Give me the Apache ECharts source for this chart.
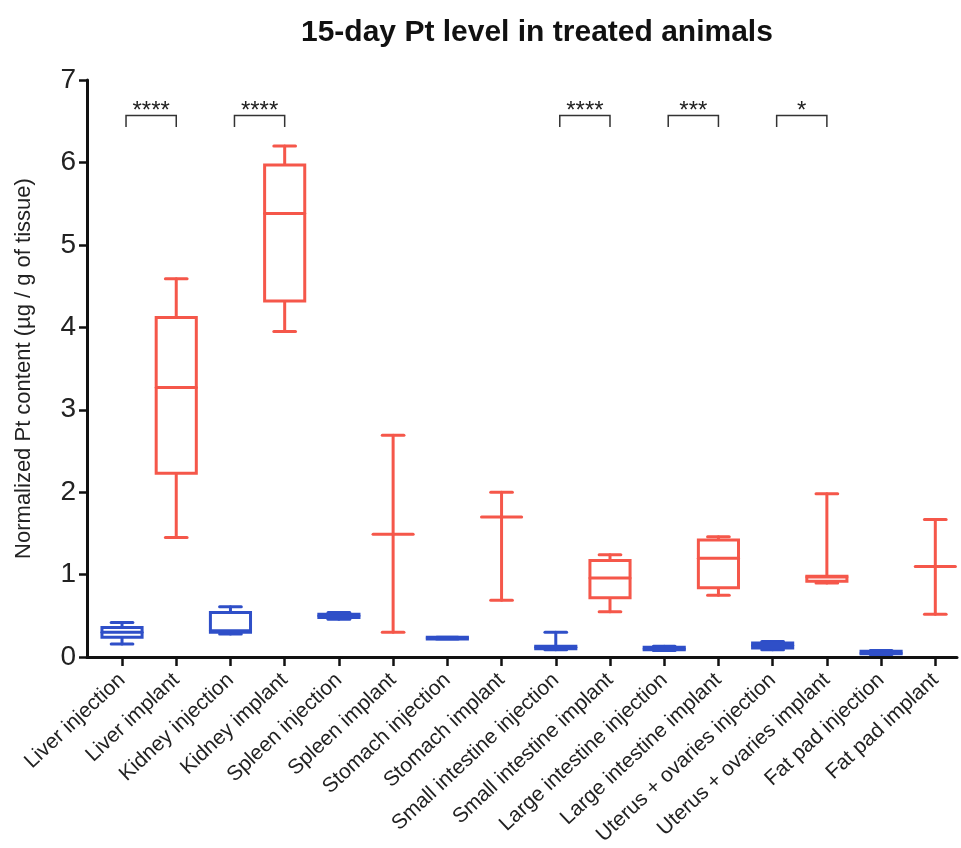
<!DOCTYPE html>
<html>
<head>
<meta charset="utf-8">
<title>15-day Pt level in treated animals</title>
<script src="https://cdn.jsdelivr.net/npm/echarts@6.0.0/dist/echarts.min.js"></script>
<style>
  html, body { margin: 0; padding: 0; background: #fff; }
  #chart { width: 961px; height: 848px; }
</style>
</head>
<body>
<div id="chart"></div>
<script>
// organ groups, injection vs implant
var categories = [
	'Liver injection', 'Liver implant',
	'Kidney injection', 'Kidney implant',
	'Spleen injection', 'Spleen implant',
	'Stomach injection', 'Stomach implant',
	'Small intestine injection', 'Small intestine implant',
	'Large intestine injection', 'Large intestine implant',
	'Uterus + ovaries injection', 'Uterus + ovaries implant',
	'Fat pad injection', 'Fat pad implant'
];
// box values (µg / g)
var minValues    = [0.16, 1.45, 0.28, 3.95, 0.46, 0.30, 0.22, 0.69, 0.09, 0.55, 0.08, 0.75, 0.09, 0.90, 0.03, 0.52];
var q1Values     = [0.24, 2.23, 0.30, 4.32, 0.48, 1.49, 0.22, 1.70, 0.10, 0.72, 0.09, 0.84, 0.11, 0.92, 0.04, 1.10];
var medianValues = [0.30, 3.27, 0.32, 5.38, 0.50, 1.49, 0.23, 1.70, 0.12, 0.96, 0.10, 1.20, 0.14, 0.97, 0.05, 1.10];
var q3Values     = [0.36, 4.12, 0.54, 5.97, 0.52, 1.49, 0.24, 1.70, 0.13, 1.17, 0.12, 1.42, 0.17, 0.98, 0.07, 1.10];
var maxValues    = [0.42, 4.59, 0.61, 6.20, 0.54, 2.69, 0.24, 2.00, 0.30, 1.24, 0.13, 1.46, 0.19, 1.98, 0.08, 1.67];

// significance brackets: [from index, to index, stars]
var sigPairs = [[0, 1, '****'], [2, 3, '****'], [8, 9, '****'], [10, 11, '***'], [12, 13, '*']];
var sigLevel = 6.57;

var yTicks = [0, 1, 2, 3, 4, 5, 6, 7];

var blue = '#2f4fc8';
var red = '#f5574a';

var boxData = [];
for (var i = 0; i < categories.length; i++) {
	boxData.push([i, minValues[i], q1Values[i], medianValues[i], q3Values[i], maxValues[i]]);
}
var sigData = sigPairs.map(function(p) {
	return [p[0], p[1], sigLevel, p[2]];
});

function renderBox(params, api) {
	var idx = api.value(0);
	var lo = api.coord([idx, api.value(1)]);
	var q1 = api.coord([idx, api.value(2)]);
	var md = api.coord([idx, api.value(3)]);
	var q3 = api.coord([idx, api.value(4)]);
	var hi = api.coord([idx, api.value(5)]);
	var unit = api.size([1, 0])[0];
	var half = unit * 0.37;
	var cap = unit * 0.2;
	var cx = md[0];
	var color = categories[idx].indexOf('injection') >= 0 ? blue : red;
	var st = { stroke: color, lineWidth: 3, fill: null, lineCap: 'round' };
	var kids = [];
	// whiskers
	kids.push({ type: 'line', shape: { x1: cx, y1: q3[1], x2: cx, y2: hi[1] }, style: st });
	kids.push({ type: 'line', shape: { x1: cx, y1: q1[1], x2: cx, y2: lo[1] }, style: st });
	kids.push({ type: 'line', shape: { x1: cx - cap, y1: hi[1], x2: cx + cap, y2: hi[1] }, style: st });
	kids.push({ type: 'line', shape: { x1: cx - cap, y1: lo[1], x2: cx + cap, y2: lo[1] }, style: st });
	// box
	if (Math.abs(q1[1] - q3[1]) > 0.5) {
		kids.push({
			type: 'rect',
			shape: { x: cx - half, y: q3[1], width: half * 2, height: q1[1] - q3[1] },
			style: { stroke: color, lineWidth: 3, fill: '#fff' }
		});
	}
	// median
	kids.push({ type: 'line', shape: { x1: cx - half, y1: md[1], x2: cx + half, y2: md[1] }, style: st });
	return { type: 'group', children: kids };
}

function renderSig(params, api) {
	var a = api.coord([api.value(0), api.value(2)]);
	var b = api.coord([api.value(1), api.value(2)]);
	var leg = api.size([0, 0.14])[1];
	return {
		type: 'group',
		children: [{
			type: 'polyline',
			shape: { points: [[a[0] + 4, a[1] + leg], [a[0] + 4, a[1]], [b[0], b[1]], [b[0], b[1] + leg]] },
			style: { stroke: '#333', lineWidth: 1.5, fill: null }
		}, {
			type: 'text',
			style: {
				text: api.value(3),
				x: (a[0] + 4 + b[0]) / 2,
				y: a[1] + 8,
				align: 'center',
				verticalAlign: 'bottom',
				font: '24px "Liberation Sans", Arial, sans-serif',
				fill: '#222'
			}
		}]
	};
}

var tickIdx = categories.map(function(c, i) { return i; });

var option = {
	backgroundColor: '#fff',
	animation: false,
	title: {
		text: '15-day Pt level in treated animals',
		left: 296,
		top: 13,
		textStyle: {
			fontFamily: '"Liberation Sans", Arial, sans-serif',
			fontSize: 30,
			fontWeight: 'bold',
			color: '#111'
		}
	},
	grid: {
		left: 87,
		right: 4,
		top: 80,
		bottom: 189,
		containLabel: false
	},
	xAxis: {
		type: 'value',
		min: -0.646,
		max: 15.4,
		splitLine: { show: false },
		axisLine: { onZero: false, lineStyle: { color: '#111', width: 3 } },
		axisTick: {
			customValues: tickIdx,
			length: 9,
			lineStyle: { color: '#111', width: 2.5 }
		},
		axisLabel: {
			customValues: tickIdx,
			rotate: 43,
			margin: 20,
			fontFamily: '"Liberation Sans", Arial, sans-serif',
			fontSize: 21,
			color: '#222',
			formatter: function(v) { return categories[Math.round(v)]; }
		}
	},
	yAxis: {
		type: 'value',
		min: 0,
		max: 7,
		interval: 1,
		name: 'Normalized Pt content (µg / g of tissue)',
		nameLocation: 'middle',
		nameGap: 52,
		nameTextStyle: {
			fontFamily: '"Liberation Sans", Arial, sans-serif',
			fontSize: 22,
			color: '#222'
		},
		splitLine: { show: false },
		axisLine: { show: true, onZero: false, lineStyle: { color: '#111', width: 3 } },
		axisTick: { show: true, length: 8, lineStyle: { color: '#111', width: 2.5 } },
		axisLabel: {
			margin: 11,
			fontFamily: '"Liberation Sans", Arial, sans-serif',
			fontSize: 28,
			color: '#222',
			formatter: function(v) { return yTicks.indexOf(v) >= 0 ? String(v) : ''; }
		}
	},
	series: [{
		type: 'custom',
		name: 'boxes',
		renderItem: renderBox,
		encode: { x: 0, y: [1, 2, 3, 4, 5] },
		data: boxData,
		z: 3
	}, {
		type: 'custom',
		name: 'significance',
		renderItem: renderSig,
		encode: { x: [0, 1], y: 2 },
		data: sigData,
		z: 4
	}]
};

var chart = echarts.init(document.getElementById('chart'), null, { renderer: 'canvas' });
chart.setOption(option);
</script>
</body>
</html>
